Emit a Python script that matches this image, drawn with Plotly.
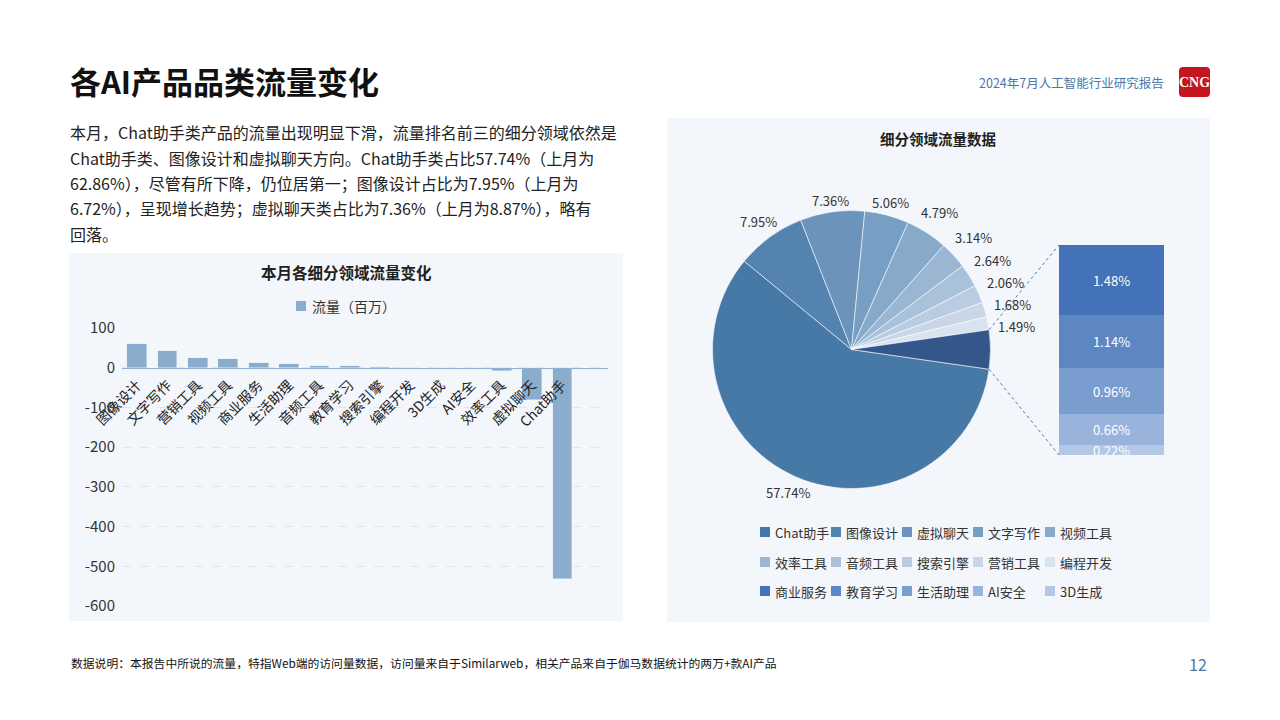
import math
import plotly.graph_objects as go

W, H = 1280, 720
FONT = "Noto Sans CJK SC"

# ---------------- data ----------------
bar_categories = ["图像设计", "文字写作", "营销工具", "视频工具", "商业服务", "生活助理", "音频工具",
                  "教育学习", "搜索引擎", "编程开发", "3D生成", "AI安全", "效率工具", "虚拟聊天", "Chat助手"]
bar_values = [59, 42, 23.5, 21, 11, 10.5, 3.3, 3.1, 2.8, 0.4, -3.5, -3.4, -8.5, -81, -532]
bar_series_name = "流量（百万）"
bar_y_ticks = [100, 0, -100, -200, -300, -400, -500, -600]

pie_labels = ["Chat助手", "图像设计", "虚拟聊天", "文字写作", "视频工具",
              "效率工具", "音频工具", "搜索引擎", "营销工具", "编程开发"]
pie_values = [57.74, 7.95, 7.36, 5.06, 4.79, 3.14, 2.64, 2.06, 1.68, 1.49]
other_labels = ["商业服务", "教育学习", "生活助理", "AI安全", "3D生成"]
other_values = [1.48, 1.14, 0.96, 0.66, 0.22]

# ---------------- styles ----------------
bar_color = "#8badcd"
pie_colors = ["#4679a6", "#5483b0", "#6c94bb", "#779fc3", "#87aacb",
              "#9ab6d3", "#aac1da", "#b9cce1", "#c8d6e8", "#d9e3ef"]
other_slice_color = "#34578b"
other_colors = ["#4472b8", "#5d87c2", "#7a9dcf", "#9ab3dc", "#b4c7e6"]
panel_color = "#f3f6fb"
text_dark = "#222222"


def px(x):
    return x / W


def py(y):
    return 1 - y / H


fig = go.Figure()

# ---------------- bar chart (left) ----------------
x_idx = list(range(len(bar_categories)))
fig.add_trace(go.Bar(x=x_idx, y=bar_values, name=bar_series_name, marker_color=bar_color,
                     width=0.65, xaxis="x", yaxis="y", showlegend=False))

bar_xd = [px(122), px(608)]
bar_yd = [py(606), py(328)]
ymin, ymax = min(bar_y_ticks), max(bar_y_ticks)
zero_pos = bar_yd[0] + (0 - ymin) / (ymax - ymin) * (bar_yd[1] - bar_yd[0])

# ---------------- pie (right) ----------------
cx, cy, r = 851.5, 349.5, 139
other_total = sum(other_values)
all_total = sum(pie_values) + other_total
other_angle = other_total / all_total * 360
rotation = 90 + other_angle / 2

slice_labels = pie_labels + ["其他"]
slice_values = pie_values + [other_total]
fig.add_trace(go.Pie(labels=slice_labels, values=slice_values,
                     textinfo="none", sort=False, automargin=False,
                     direction="clockwise", rotation=rotation,
                     marker=dict(colors=pie_colors + [other_slice_color],
                                 line=dict(color="rgba(255,255,255,0.7)", width=0.8)),
                     domain=dict(x=[px(cx - r), px(cx + r)], y=[py(cy + r), py(cy - r)]),
                     showlegend=False, hoverinfo="label+percent"))

# ---------------- bar-of-pie stacked bar ----------------
bx0, bx1, by_top, by_bot = 1059, 1164, 245, 455
for lab, val, col in reversed(list(zip(other_labels, other_values, other_colors))):
    fig.add_trace(go.Bar(x=[0], y=[val], name=lab, marker=dict(color=col, line=dict(width=0)),
                         width=1, text=[f"{val:.2f}%"], textposition="inside",
                         insidetextanchor="middle",
                         textfont=dict(color="white", size=13, family=FONT),
                         xaxis="x2", yaxis="y2", showlegend=False))

shapes = []
annotations = []


def add_text(x, y, text, size, color=text_dark, xanchor="left", bold=False, family=FONT, yanchor="middle"):
    if bold:
        text = f"<b>{text}</b>"
    annotations.append(dict(x=px(x), y=py(y), xref="paper", yref="paper", text=text, showarrow=False,
                            xanchor=xanchor, yanchor=yanchor,
                            font=dict(size=size, color=color, family=family)))


# panels
shapes.append(dict(type="rect", xref="paper", yref="paper", x0=px(69), x1=px(623), y0=py(621), y1=py(253),
                   fillcolor=panel_color, line=dict(width=0), layer="below"))
shapes.append(dict(type="rect", xref="paper", yref="paper", x0=px(667), x1=px(1210), y0=py(622), y1=py(118),
                   fillcolor=panel_color, line=dict(width=0), layer="below"))

# connector lines (from the edges of the "other" slice to the stacked bar)
th = math.radians(other_angle / 2)
top_pt = (cx + r * math.cos(th), cy - r * math.sin(th))
bot_pt = (cx + r * math.cos(th), cy + r * math.sin(th))
for (x0, y0), (x1, y1) in [(top_pt, (bx0, by_top)), (bot_pt, (bx0, by_bot))]:
    shapes.append(dict(type="line", xref="paper", yref="paper", x0=px(x0), y0=py(y0), x1=px(x1), y1=py(y1),
                       line=dict(color="#4a78c0", width=1, dash="dot")))

# pie percentage labels, placed just outside each slice at its mid angle
label_pts = []
ang = -other_angle / 2  # math angle where the first slice starts, going clockwise
for v in pie_values:
    span = v / all_total * 360
    mid = math.radians(ang - span / 2)
    ang -= span
    ux, uy = math.cos(mid), math.sin(mid)
    txt = f"{v:.2f}%"
    hw, hh = 3.6 * len(txt), 5
    pad = 10 if ux > 0.3 else 4
    d = r + pad + hw * abs(ux) + hh * abs(uy)
    label_pts.append([cx + d * ux, cy - d * uy, txt])
# keep right-hand small labels from colliding (top to bottom)
right = [p for p in label_pts if p[0] > cx + 60 and p[1] < cy]
right.sort(key=lambda p: p[1])
for a, b in zip(right, right[1:]):
    if b[1] - a[1] < 22:
        b[1] = a[1] + 22
for lx, ly, txt in label_pts:
    add_text(lx, ly, txt, 13, color="#333333", xanchor="center")

# title & header
add_text(68, 80, "各AI产品品类流量变化", 31, color="#111111", bold=True)
add_text(1166, 82, "2024年7月人工智能行业研究报告", 12.5, color="#4a76a8", xanchor="right")
# logo
shapes.append(dict(type="path", xref="paper", yref="paper",
                   path=(f"M {px(1183)} {py(67)} L {px(1206)} {py(67)} Q {px(1210)} {py(67)} {px(1210)} {py(71)} "
                         f"L {px(1210)} {py(93)} Q {px(1210)} {py(97)} {px(1206)} {py(97)} L {px(1183)} {py(97)} "
                         f"Q {px(1179)} {py(97)} {px(1179)} {py(93)} L {px(1179)} {py(71)} Q {px(1179)} {py(67)} {px(1183)} {py(67)} Z"),
                   fillcolor="#c4161c", line=dict(width=0)))
add_text(1194.5, 82, "CNG", 14, color="white", xanchor="center", bold=True, family="Liberation Serif")

# paragraph
para = [
    "本月，Chat助手类产品的流量出现明显下滑，流量排名前三的细分领域依然是",
    "Chat助手类、图像设计和虚拟聊天方向。Chat助手类占比57.74%（上月为",
    "62.86%），尽管有所下降，仍位居第一；图像设计占比为7.95%（上月为",
    "6.72%），呈现增长趋势；虚拟聊天类占比为7.36%（上月为8.87%），略有",
    "回落。",
]
for i, line in enumerate(para):
    add_text(68, 132 + i * 25.5, line, 16)

# bar chart title and legend
add_text(346, 272, "本月各细分领域流量变化", 15.5, xanchor="center", bold=True)
shapes.append(dict(type="rect", xref="paper", yref="paper", x0=px(296), x1=px(306), y0=py(311), y1=py(301),
                   fillcolor=bar_color, line=dict(width=0)))
add_text(310, 306, bar_series_name, 14, color="#333333")

# pie title
add_text(938, 138, "细分领域流量数据", 14.5, xanchor="center", bold=True)

# pie legend (manual)
legend_names = pie_labels + other_labels
legend_colors = pie_colors + other_colors
col_x = [760, 831, 902, 973, 1045]
row_y = [532, 562, 591]
for i, (nm, col) in enumerate(zip(legend_names, legend_colors)):
    rr, cc = divmod(i, 5)
    x0, yc = col_x[cc], row_y[rr]
    shapes.append(dict(type="rect", xref="paper", yref="paper", x0=px(x0), x1=px(x0 + 10),
                       y0=py(yc + 5), y1=py(yc - 5), fillcolor=col, line=dict(width=0)))
    add_text(x0 + 13, yc, nm, 13, color="#333333")

# footnote & page no
add_text(69, 662, "数据说明：本报告中所说的流量，特指Web端的访问量数据，访问量来自于Similarweb，相关产品来自于伽马数据统计的两万+款AI产品",
         11.8, color="#111111")
add_text(1209, 664, "12", 16, color="#4a76a8", xanchor="right")

fig.update_layout(
    width=W, height=H, margin=dict(l=0, r=0, t=0, b=0, pad=0), autosize=False,
    paper_bgcolor="white", plot_bgcolor="rgba(0,0,0,0)",
    barmode="stack", bargap=0,
    font=dict(family=FONT, color=text_dark),
    uniformtext=dict(minsize=13, mode="show"),
    xaxis=dict(domain=bar_xd, range=[-0.5, len(bar_categories) + 0.5], tickmode="array",
               tickvals=x_idx, ticktext=bar_categories, tickangle=-45, anchor="free", position=zero_pos,
               showline=True, linecolor="#8fb0d0", linewidth=1, showgrid=False, zeroline=False,
               automargin=False,
               ticks="", tickfont=dict(size=14, color=text_dark, family=FONT), ticklabelstandoff=3),
    yaxis=dict(domain=bar_yd, range=[ymin, ymax], tickmode="array", tickvals=bar_y_ticks,
               ticktext=[str(v) for v in bar_y_ticks], showgrid=True, gridcolor="#e2e6ec", griddash="dash",
               gridwidth=1, zeroline=False, showline=False, ticks="", anchor="x", automargin=False,
               tickfont=dict(size=15, color="#333333", family=FONT), ticklabelstandoff=6),
    xaxis2=dict(domain=[px(bx0), px(bx1)], range=[-0.5, 0.5], visible=False, anchor="y2", automargin=False),
    yaxis2=dict(domain=[py(by_bot), py(by_top)], range=[0, other_total], visible=False, anchor="x2",
                automargin=False),
    shapes=shapes, annotations=annotations,
)

fig.write_html("out.html")
